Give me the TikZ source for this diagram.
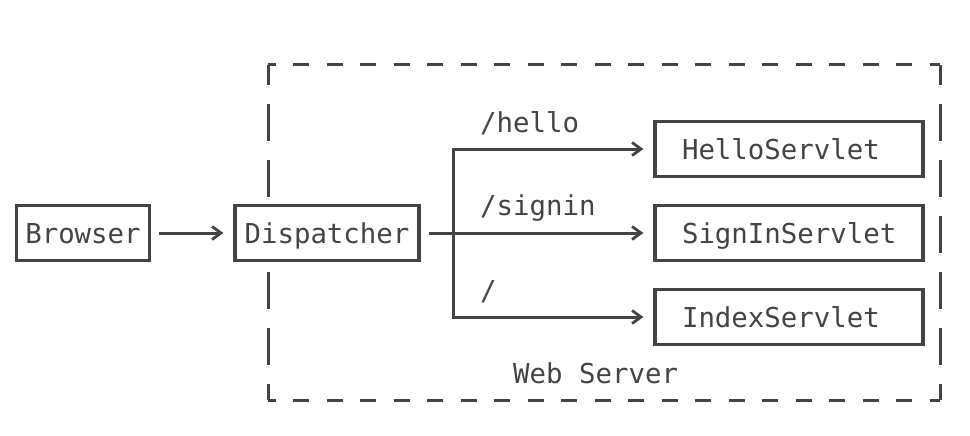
\documentclass[tikz,border=0pt]{standalone}
\usepackage{fontspec}
\setmonofont{DejaVu Sans Mono}
\usetikzlibrary{arrows.meta}
\definecolor{ink}{HTML}{444444}
\tikzset{
  box/.style={draw=ink, fill=white, line width=3.1pt, minimum height=55pt, inner sep=0pt,
    text height=20pt, text depth=0pt, text=ink, font=\mono},
  lbl/.style={anchor=base west, inner sep=0pt, text=ink, font=\mono},
  arr/.style={draw=ink, line width=3pt, -{Straight Barb[length=9pt,width=13pt,line width=2.8pt]}, shorten >=10pt},
  frame/.style={draw=ink, line width=3pt}
}
\newcommand{\mono}{\ttfamily\fontsize{27.4}{32}\selectfont}
\begin{document}
\begin{tikzpicture}[x=1pt,y=-1pt]
\useasboundingbox (0,0) rectangle (970,436);
% dashed frame (Web Server)
\draw[frame, dash pattern=on 16pt off 17.5pt, dash phase=8.5pt] (268,65) -- (940,65);
\draw[frame, dash pattern=on 16pt off 17.5pt, dash phase=8.5pt] (268,400) -- (940,400);
\draw[frame, dash pattern=on 37pt off 19pt, dash phase=17pt] (268,65) -- (268,400);
\draw[frame, dash pattern=on 37pt off 19pt, dash phase=17pt] (940,65) -- (940,400);
% nodes
\node[box, minimum width=133pt] (browser) at (83,233) {Browser};
\node[box, minimum width=184pt] (disp) at (327,233) {Dispatcher};
\node[box, minimum width=268pt] (hello) at (789,149) {\makebox[214pt][l]{HelloServlet}};
\node[box, minimum width=268pt] (signin) at (789,233) {\makebox[214pt][l]{SignInServlet}};
\node[box, minimum width=268pt] (index) at (789,317) {\makebox[214pt][l]{IndexServlet}};
\coordinate (j) at (453,233);
% labels
\node[lbl] (lhello) at (480,132) {/hello};
\node[lbl] (lsignin) at (480,215) {/signin};
\node[lbl] (lroot) at (480,300) {/};
\node[lbl] (lserver) at (513,383) {Web Server};
% connectors
\draw[arr, shorten <=8pt] (browser) -- (disp);
\draw[arr, shorten <=8pt] (disp) -- (signin);
\draw[arr] (j) |- (hello);
\draw[arr] (j) |- (index);
\end{tikzpicture}
\end{document}
